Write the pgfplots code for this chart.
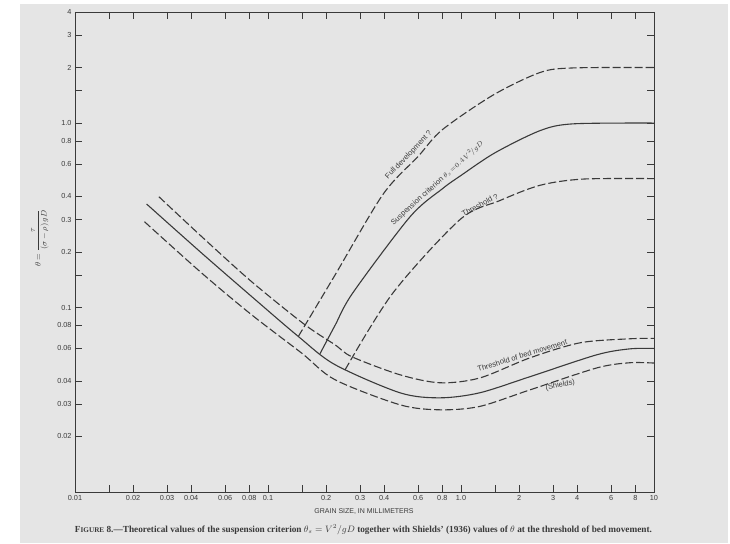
\documentclass[border=0pt]{standalone}
\usepackage{pgfplots}
\pgfplotsset{compat=1.18}
\usepackage{graphicx}
\usepackage{fontspec}
\setmainfont{Liberation Serif}
\setsansfont{Liberation Sans}
\definecolor{bg}{HTML}{E5E5E5}
\definecolor{ink}{HTML}{3A3A3A}
\begin{document}
\begin{tikzpicture}
\useasboundingbox (-75pt,-51pt) rectangle (655pt,492pt);
\fill[white] (-75pt,-51pt) rectangle (655pt,492pt);
\fill[bg] (-55pt,-51pt) rectangle (653pt,488pt);
\begin{axis}[
  at={(0pt,0pt)}, anchor=south west,
  width=579pt, height=480pt, scale only axis,
  xmode=log, ymode=log,
  xmin=0.01, xmax=10, ymin=0.01, ymax=4,
  axis line style={ink, line width=0.8pt},
  tick style={ink, line width=0.8pt},
  major tick length=7pt,
  tick align=inside,
  xtick pos=both, ytick pos=both,
  minor xtick={}, minor ytick={},
  xtick={0.01,0.015,0.02,0.03,0.04,0.06,0.08,0.1,0.15,0.2,0.3,0.4,0.6,0.8,1,1.5,2,3,4,6,8,10},
  xticklabels={0.01,,0.02,0.03,0.04,0.06,0.08,0.1,,0.2,0.3,0.4,0.6,0.8,1.0,,2,3,4,6,8,10},
  ytick={0.02,0.03,0.04,0.06,0.08,0.1,0.15,0.2,0.3,0.4,0.6,0.8,1,1.5,2,3,4},
  yticklabels={0.02,0.03,0.04,0.06,0.08,0.1,,0.2,0.3,0.4,0.6,0.8,1.0,,2,3,4},
  ticklabel style={font=\sffamily\fontsize{7.3}{8}\selectfont, text=ink},
  clip=true,
]
% Shields upper envelope (dashed)
\addplot[ink, line width=1.1pt, dash pattern=on 8pt off 3pt, smooth] coordinates {
 (0.0272,0.399) (0.0454,0.242) (0.0823,0.138) (0.1555,0.0806) (0.2225,0.0628)
 (0.272,0.0541) (0.483,0.0432) (0.778,0.0391) (1.25,0.0415) (2.28,0.0534)
 (4.14,0.0644) (7.5,0.0677) (10,0.068)};
% Shields mean (solid)
\addplot[ink, line width=1.1pt, smooth] coordinates {
 (0.0235,0.364) (0.0454,0.197) (0.0823,0.1147) (0.1436,0.0697) (0.2225,0.049)
 (0.483,0.0345) (0.778,0.0324) (1.25,0.0345) (2.28,0.0422) (5.07,0.0555)
 (7.5,0.0597) (10,0.06)};
% Shields lower envelope (dashed)
\addplot[ink, line width=1.1pt, dash pattern=on 8pt off 3pt, smooth] coordinates {
 (0.0229,0.292) (0.0454,0.1536) (0.0823,0.0913) (0.1495,0.0566) (0.2225,0.0406)
 (0.483,0.0297) (0.778,0.0279) (1.25,0.0291) (2.28,0.0358) (5.07,0.0471)
 (7.5,0.0502) (10,0.05)};
% Full development (dashed)
\addplot[ink, line width=1.1pt, dash pattern=on 8pt off 3pt, smooth] coordinates {
 (0.1436,0.0697) (0.2225,0.150) (0.394,0.41) (0.6,0.66) (0.8,0.92)
 (1.47,1.42) (2.57,1.88) (3.8,1.99) (10,2.0)};
% Suspension criterion (solid)
\addplot[ink, line width=1.1pt, smooth] coordinates {
 (0.186,0.0562) (0.2225,0.080) (0.275,0.12) (0.544,0.31) (0.8,0.44) (1.0,0.52)
 (1.5,0.69) (2.57,0.91) (3.8,0.99) (10,1.0)};
% Threshold (dashed)
\addplot[ink, line width=1.1pt, dash pattern=on 8pt off 3pt, smooth] coordinates {
 (0.251,0.046) (0.444,0.120) (0.989,0.30) (1.59,0.38) (2.57,0.46)
 (4.29,0.497) (10,0.5)};

\node[rotate=46, anchor=south, inner sep=3.5pt, text=ink, font=\sffamily\fontsize{7.5}{8}\selectfont] at (axis cs:0.57,0.63) {Full development ?};
\node[rotate=42, anchor=south, inner sep=3.5pt, text=ink, font=\sffamily\fontsize{7.5}{8}\selectfont] at (axis cs:0.80,0.44) {Suspension criterion $\theta_s\!=\!0.4\,V^2\!/gD$};
\node[rotate=28, anchor=south, inner sep=3.5pt, text=ink, font=\sffamily\fontsize{7.5}{8}\selectfont] at (axis cs:1.3,0.335) {Threshold ?};
\node[rotate=17, anchor=south, inner sep=3pt, text=ink, font=\sffamily\fontsize{7.5}{8}\selectfont] at (axis cs:2.12,0.0512) {Threshold of bed movement};
\node[rotate=11, anchor=north, inner sep=3pt, text=ink, font=\sffamily\fontsize{7.5}{8}\selectfont] at (axis cs:3.22,0.0411) {(Shields)};
\end{axis}
\node[text=ink, font=\sffamily\fontsize{7}{8}\selectfont] at (289pt,-20pt) {GRAIN SIZE, IN MILLIMETERS};
\node[rotate=90, text=ink, font=\fontsize{8.5}{10}\selectfont] at (-35pt,254pt) {$\theta=\displaystyle\frac{\tau}{(\sigma-\rho)\,gD}$};
\node[text=ink] at (288.5pt,-38pt) {\resizebox{577pt}{!}{\fontsize{9}{10}\selectfont\bfseries F{\fontsize{7}{8}\selectfont IGURE} 8.---Theoretical values of the suspension criterion $\theta_s=V^2/gD$ together with Shields' (1936) values of $\theta$ at the threshold of bed movement.}};
\end{tikzpicture}
\end{document}
